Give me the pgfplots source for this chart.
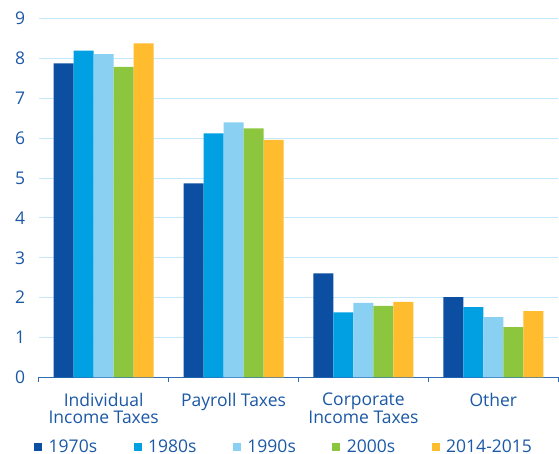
\documentclass[border=0pt]{standalone}
\usepackage{fontspec}
\setmainfont{Open Sans}
\usepackage{pgfplots}
\pgfplotsset{compat=1.18}
\definecolor{c70}{HTML}{0B4EA2}
\definecolor{c80}{HTML}{00A0E3}
\definecolor{c90}{HTML}{89D0F3}
\definecolor{c00}{HTML}{8CC63F}
\definecolor{c14}{HTML}{FEBC2E}
\definecolor{txt}{HTML}{1B58A6}
\definecolor{grd}{HTML}{C3E8F9}
\definecolor{axl}{HTML}{2E6DB4}
\begin{document}
\begin{tikzpicture}
\path[use as bounding box] (-38.7pt,-76.7pt) rectangle (520.3pt,377.3pt);
\begin{axis}[
  anchor=south west, at={(0pt,0pt)},
  scale only axis, width=519.6pt, height=358.6pt,
  ybar=0pt, bar width=0.154,
  xmin=-0.5, xmax=3.5, ymin=0, ymax=9,
  ytick={0,...,9},
  xtick={0,1,2,3},
  xticklabels={{Individual\\Income Taxes},{Payroll Taxes},{Corporate\\Income Taxes},{Other}},
  minor xtick={-0.5,0.5,1.5,2.5,3.5},
  axis lines*=left,
  axis line style={-},
  y axis line style={draw=none},
  x axis line style={axl, line width=1.3pt},
  tick align=outside,
  major tick length=0pt,
  minor tick length=5pt,
  minor tick style={axl, line width=1.3pt},
  ymajorgrids,
  major grid style={grd, line width=1pt},
  /pgf/number format/assume math mode=true,
  every tick label/.append style={font=\fontsize{17.5}{17.5}\selectfont, text=txt},
  y tick label style={xshift=-10pt},
  x tick label style={align=center, anchor=north, yshift=-12pt},
  legend columns=5,
  legend style={at={(axis description cs:-0.009,-0.1935)}, anchor=west, draw=none, fill=none, inner sep=0pt,
    font=\fontsize{17.5}{17.5}\selectfont, text=txt,
    nodes={inner sep=1pt},
    /tikz/every even column/.append style={column sep=35.5pt}},
  legend image code/.code={\fill (0pt,-4pt) rectangle (8pt,4pt); \path (13.5pt,0pt);},
]
\addplot[fill=c70, draw=none] coordinates {(0,7.88) (1,4.87) (2,2.61) (3,2.01)};
\addplot[fill=c80, draw=none] coordinates {(0,8.20) (1,6.12) (2,1.63) (3,1.76)};
\addplot[fill=c90, draw=none] coordinates {(0,8.11) (1,6.40) (2,1.87) (3,1.51)};
\addplot[fill=c00, draw=none] coordinates {(0,7.79) (1,6.25) (2,1.79) (3,1.26)};
\addplot[fill=c14, draw=none] coordinates {(0,8.38) (1,5.96) (2,1.89) (3,1.66)};
\legend{1970s,1980s,1990s,2000s,2014-2015}
\end{axis}
\end{tikzpicture}
\end{document}
